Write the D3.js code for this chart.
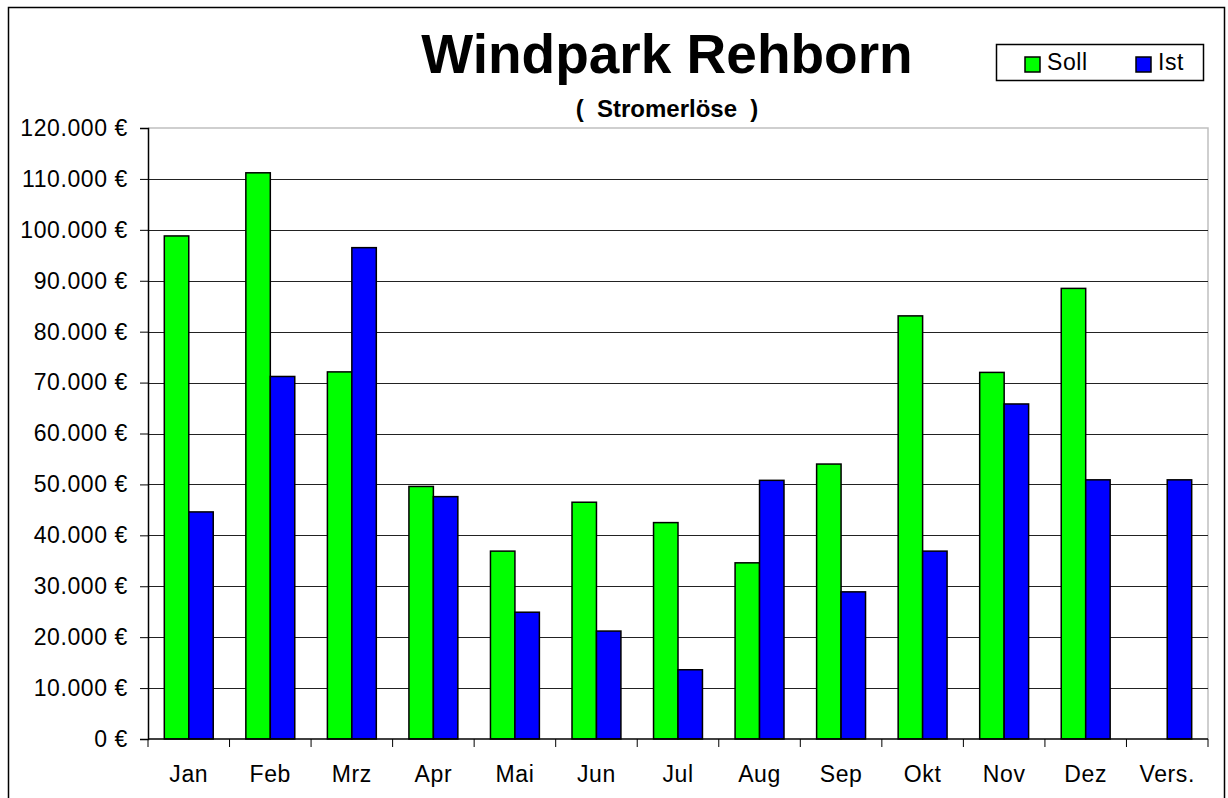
<!DOCTYPE html>
<html lang="de">
<head>
<meta charset="UTF-8">
<title>Windpark Rehborn</title>
<style>
    body { margin: 0; background: #fff; font-family: "Liberation Sans", Arial, sans-serif; }
    svg { display: block; }
</style>
</head>
<body>
<svg id="chart"></svg>
<script src="https://d3js.org/d3.v7.min.js"></script>
<script>
// Monatswerte (Euro)
const categories = ['Jan', 'Feb', 'Mrz', 'Apr', 'Mai', 'Jun', 'Jul', 'Aug', 'Sep', 'Okt', 'Nov', 'Dez', 'Vers.'];
const sollValues = [98800, 111200, 72100, 49600, 36900, 46500, 42500, 34600, 54000, 83100, 72000, 88500, null];
const istValues  = [44600, 71200, 96500, 47600, 24900, 21200, 13600, 50800, 28900, 36900, 65800, 50900, 50900];
const seriesNames = ['Soll', 'Ist'];
const seriesColors = ['#00ff00', '#0000ff'];
const yTicks = d3.range(0, 120001, 10000);

const width = 1228, height = 798;
const plot = { left: 148, right: 1208, top: 128, bottom: 739 };

const svg = d3.select('#chart').attr('width', width).attr('height', height);

// outer frame (runs off the bottom edge)
svg.append('rect')
    .attr('x', 8.5).attr('y', 7.5)
    .attr('width', 1216).attr('height', 820)
    .attr('fill', '#fff').attr('stroke', '#000').attr('stroke-width', 1.5);

const de = d3.formatLocale({ decimal: ',', thousands: '.', grouping: [3], currency: ['', ' €'] });
const fmt = de.format('$,.0f');

const x = d3.scaleBand().domain(categories).range([plot.left, plot.right]).padding(0);
const xs = d3.scaleBand().domain(seriesNames).range([x.bandwidth() * 0.2, x.bandwidth() * 0.8]).padding(0);
const y = d3.scaleLinear().domain([0, 120000]).range([plot.bottom, plot.top]);

// plot area border (grey, top and right)
svg.append('path')
    .attr('d', `M${plot.left},${plot.top}H${plot.right}V${plot.bottom}`)
    .attr('fill', 'none').attr('stroke', '#c0c0c0').attr('stroke-width', 1.5);

// gridlines
svg.append('g').selectAll('line')
    .data(yTicks.filter(t => t > 0 && t < 120000))
    .join('line')
    .attr('x1', plot.left).attr('x2', plot.right)
    .attr('y1', d => Math.round(y(d)) + 0.5).attr('y2', d => Math.round(y(d)) + 0.5)
    .attr('stroke', '#222').attr('stroke-width', 1);

// bars
const rows = categories.map((c, i) => ({ cat: c, values: [sollValues[i], istValues[i]] }));
const groups = svg.append('g').selectAll('g')
    .data(rows)
    .join('g')
    .attr('transform', d => `translate(${x(d.cat)},0)`);

groups.selectAll('rect')
    .data(d => d.values.map((v, j) => ({ name: seriesNames[j], color: seriesColors[j], v })).filter(e => e.v != null))
    .join('rect')
    .attr('x', d => xs(d.name))
    .attr('y', d => y(d.v))
    .attr('width', xs.bandwidth())
    .attr('height', d => y(0) - y(d.v))
    .attr('fill', d => d.color)
    .attr('stroke', '#000').attr('stroke-width', 1.5);

// y axis
const yAxis = svg.append('g')
    .attr('transform', `translate(${plot.left},0)`)
    .call(d3.axisLeft(y).tickValues(yTicks).tickFormat(fmt).tickSize(8).tickPadding(12));
yAxis.select('.domain').attr('stroke', '#000').attr('stroke-width', 1.5);
yAxis.selectAll('.tick line').attr('stroke', '#000');
yAxis.selectAll('text')
    .attr('font-family', '"Liberation Sans", Arial, sans-serif')
    .attr('font-size', 23).attr('letter-spacing', 0.6).attr('fill', '#000');

// x axis (ticks at category boundaries)
const xAxis = svg.append('g').attr('transform', `translate(0,${plot.bottom})`);
xAxis.append('line')
    .attr('x1', plot.left).attr('x2', plot.right)
    .attr('stroke', '#000').attr('stroke-width', 1.5);
xAxis.selectAll('line.tk')
    .data(categories.map(c => x(c)).concat([plot.right]))
    .join('line')
    .attr('class', 'tk')
    .attr('x1', d => d).attr('x2', d => d)
    .attr('y1', 0).attr('y2', 8)
    .attr('stroke', '#000');
xAxis.selectAll('text')
    .data(categories)
    .join('text')
    .attr('x', d => x(d) + x.bandwidth() / 2)
    .attr('y', 43)
    .attr('text-anchor', 'middle')
    .attr('font-size', 23).attr('letter-spacing', 0.6)
    .text(d => d);

// titles
svg.append('text')
    .attr('x', 667).attr('y', 73)
    .attr('text-anchor', 'middle')
    .attr('font-size', 55).attr('font-weight', 'bold')
    .text('Windpark Rehborn');
svg.append('text')
    .attr('x', 667).attr('y', 117)
    .attr('text-anchor', 'middle')
    .attr('font-size', 24).attr('font-weight', 'bold')
    .style('white-space', 'pre')
    .text('(  Stromerlöse  )');

// legend
const legend = svg.append('g');
legend.append('rect')
    .attr('x', 996.5).attr('y', 44.5).attr('width', 207).attr('height', 36)
    .attr('fill', '#fff').attr('stroke', '#000').attr('stroke-width', 1.5);
const legendX = [1025, 1136];
seriesNames.forEach((name, i) => {
    legend.append('rect')
        .attr('x', legendX[i]).attr('y', 57).attr('width', 15).attr('height', 15)
        .attr('fill', seriesColors[i]).attr('stroke', '#000').attr('stroke-width', 1.5);
    legend.append('text')
        .attr('x', legendX[i] + 22).attr('y', 70)
        .attr('font-size', 23).attr('letter-spacing', 0.6)
        .text(name);
});
</script>
</body>
</html>
